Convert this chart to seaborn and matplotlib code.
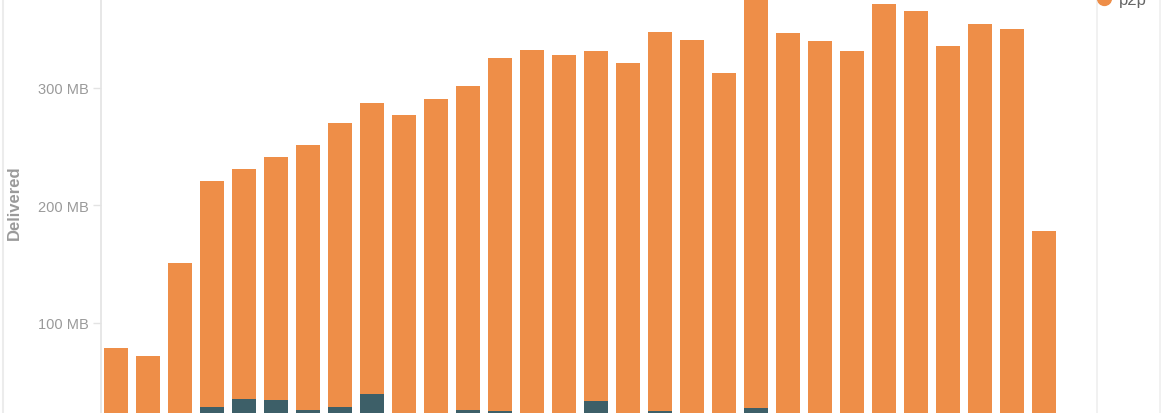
"""
plot.py: daily delivered traffic, http underneath p2p, stacked bars.

    python plot.py
"""

import numpy as np
import pandas as pd
import matplotlib
matplotlib.use('Agg')
import matplotlib.pyplot as plt
from matplotlib.lines import Line2D
from matplotlib.patches import Rectangle
from matplotlib.ticker import FixedLocator, FuncFormatter
import seaborn as sns

# --- data (MB) ---
days = list(range(1, 31))
total_mb = [78.7, 71.7, 151.1, 221.0, 231.0, 241.0, 251.5, 270.0, 287.0, 277.0,
            291.0, 301.7, 325.5, 332.6, 328.1, 331.7, 321.0, 347.9, 341.1, 312.8,
            375.0, 346.8, 340.3, 331.5, 371.2, 365.8, 336.0, 354.5, 350.5, 178.6]
http_mb = [15.0, 14.0, 18.0, 28.8, 35.1, 34.5, 26.2, 28.8, 39.3, 18.0,
           17.0, 26.0, 24.8, 16.0, 15.0, 33.9, 17.0, 25.4, 16.0, 15.0,
           27.7, 16.0, 15.0, 14.0, 16.0, 15.0, 14.0, 15.0, 16.0, 10.0]
y_ticks = [100, 200, 300]

ORANGE = '#EE8E48'
TEAL = '#3D5F68'
GREY = '#9a9a9a'
LINE = '#e3e3e3'

W, H = 1163, 414


def main():
    df = pd.DataFrame({'day': days, 'total': total_mb, 'http': http_mb})
    df['p2p'] = df['total'] - df['http']

    sns.set_style('white')
    plt.rcParams['font.family'] = ['Liberation Sans', 'DejaVu Sans']

    fig = plt.figure(figsize=(W / 100, H / 100), dpi=100)
    ax = fig.add_axes([101 / W, 0, 960 / W, 1])

    # p2p sits on top of http, so draw the full stack then http over it
    sns.barplot(data=df, x='day', y='total', color=ORANGE, width=0.75,
                linewidth=0, saturation=1, ax=ax)
    sns.barplot(data=df, x='day', y='http', color=TEAL, width=0.75,
                linewidth=0, saturation=1, ax=ax)

    ax.set_xlim(-0.47, 29.53)
    ax.set_ylim(23.4, 375.7)

    ax.yaxis.set_major_locator(FixedLocator(y_ticks))
    ax.yaxis.set_major_formatter(FuncFormatter(lambda v, _: f'{v:.0f} MB'))
    ax.tick_params(axis='y', length=6, width=1, color=LINE, pad=3,
                   labelsize=10.5, labelcolor=GREY, left=True)
    ax.tick_params(axis='x', bottom=False, labelbottom=False)
    ax.set_xlabel('')
    ax.set_ylabel('')

    for side in ('top', 'right', 'bottom'):
        ax.spines[side].set_visible(False)
    ax.spines['left'].set_color(LINE)
    ax.spines['left'].set_linewidth(1.2)

    fig.text(14 / W, 1 - 203 / H, 'Delivered', rotation=90, ha='center',
             va='center', fontsize=12, fontweight='bold', color=GREY)

    # outer panel edge on the left and the legend panel on the right
    fig.add_artist(Line2D([3 / W, 3 / W], [0, 1], color='#ececec', lw=1.5,
                          transform=fig.transFigure))
    fig.add_artist(Rectangle((1097 / W, -0.1), 63 / W, 1.2, fill=False,
                             edgecolor='#efefef', lw=1.2,
                             transform=fig.transFigure))

    handle = Line2D([], [], marker='o', ls='', color=ORANGE, markersize=10)
    fig.legend(handles=[handle], labels=['p2p'], loc='center left',
               bbox_to_anchor=(1099 / W, 1.0), frameon=False, fontsize=12,
               labelcolor='#666666', handlelength=0.6, handletextpad=0.6,
               borderpad=0, borderaxespad=0)

    fig.savefig('out.png', dpi=100)
    plt.close(fig)


if __name__ == '__main__':
    main()
